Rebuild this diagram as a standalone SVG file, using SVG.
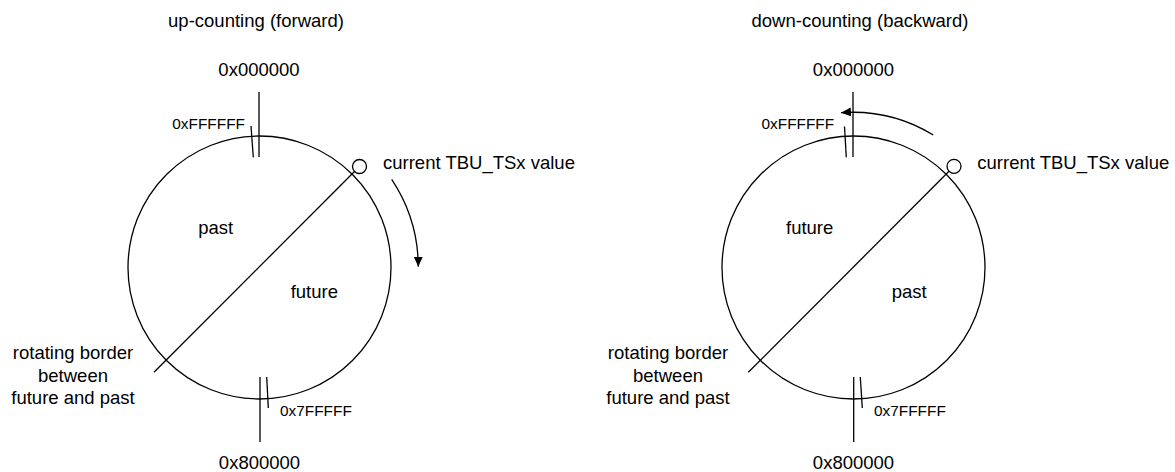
<svg xmlns="http://www.w3.org/2000/svg" width="1175" height="472" viewBox="0 0 1175 472">
<style>
.t{font-family:"Liberation Sans",Arial,sans-serif;font-size:18.5px;fill:#000}
.s{font-family:"Liberation Sans",Arial,sans-serif;font-size:15.4px;fill:#000}
.m{text-anchor:middle}
.ln{fill:none;stroke:#000;stroke-width:1.3}
</style>
<defs>
<marker id="ah" markerUnits="userSpaceOnUse" markerWidth="11" markerHeight="10" refX="10" refY="4.5" orient="auto">
<path d="M0,0 L10,4.5 L0,9 z" fill="#000"/>
</marker>
</defs>
<rect width="1175" height="472" fill="#fff"/>

<g id="left-panel">
<text class="t m" x="256" y="27">up-counting (forward)</text>
<g id="left-circle">
<circle class="ln" cx="259.5" cy="267.5" r="131.5"/>
</g>
<g id="left-top-mark">
<line class="ln" x1="259" y1="92" x2="259" y2="157"/>
<line class="ln" x1="251" y1="126" x2="253.3" y2="157.3"/>
<text class="t m" x="259" y="76">0x000000</text>
<text class="s" x="172.3" y="129">0xFFFFFF</text>
</g>
<g id="left-bottom-mark">
<line class="ln" x1="260" y1="377" x2="260" y2="442"/>
<line class="ln" x1="266.7" y1="377" x2="268.3" y2="408"/>
<text class="t m" x="259.5" y="468.5">0x800000</text>
<text class="s" x="280" y="415.5">0x7FFFFF</text>
</g>
<g id="left-current">
<circle class="ln" cx="359.5" cy="166.5" r="7"/>
<text class="t" x="383" y="169">current TBU_TSx value</text>
</g>
<g id="left-border-label">
<text class="t m" x="73" y="359.3">rotating border</text>
<text class="t m" x="73" y="381.7">between</text>
<text class="t m" x="73" y="404">future and past</text>
</g>
<text class="t" x="198.3" y="233.7">past</text>
<text class="t" x="290.7" y="297.7">future</text>
</g>

<g id="right-panel">
<text class="t m" x="860" y="27">down-counting (backward)</text>
<g id="right-circle">
<circle class="ln" cx="853.5" cy="267.5" r="131.5"/>
</g>
<g id="right-top-mark">
<line class="ln" x1="853" y1="92" x2="853" y2="157"/>
<line class="ln" x1="844.5" y1="126.5" x2="846.3" y2="157.3"/>
<text class="t m" x="853.5" y="76">0x000000</text>
<text class="s" x="761.5" y="129">0xFFFFFF</text>
</g>
<g id="right-bottom-mark">
<line class="ln" x1="853.7" y1="377" x2="853.7" y2="442"/>
<line class="ln" x1="860.3" y1="377" x2="862.3" y2="408"/>
<text class="t m" x="853.5" y="468.5">0x800000</text>
<text class="s" x="874" y="415.5">0x7FFFFF</text>
</g>
<g id="right-current">
<circle class="ln" cx="954" cy="166.3" r="7"/>
<text class="t" x="977.3" y="169">current TBU_TSx value</text>
</g>
<g id="right-border-label">
<text class="t m" x="668" y="359.3">rotating border</text>
<text class="t m" x="668" y="381.7">between</text>
<text class="t m" x="668" y="404">future and past</text>
</g>
<text class="t" x="786" y="233.5">future</text>
<text class="t" x="891.7" y="297.7">past</text>
</g>

<g id="connectors">
<line class="ln" x1="154" y1="372.3" x2="354.5" y2="171.5"/>
<line class="ln" x1="748.3" y1="372.3" x2="949" y2="171.3"/>
<path class="ln" d="M391.7,179.3 A158.8,158.8 0 0 1 418.3,266.7" marker-end="url(#ah)"/>
<path class="ln" d="M933.3,135 A155,155 0 0 0 841,112.7" marker-end="url(#ah)"/>
</g>
</svg>
